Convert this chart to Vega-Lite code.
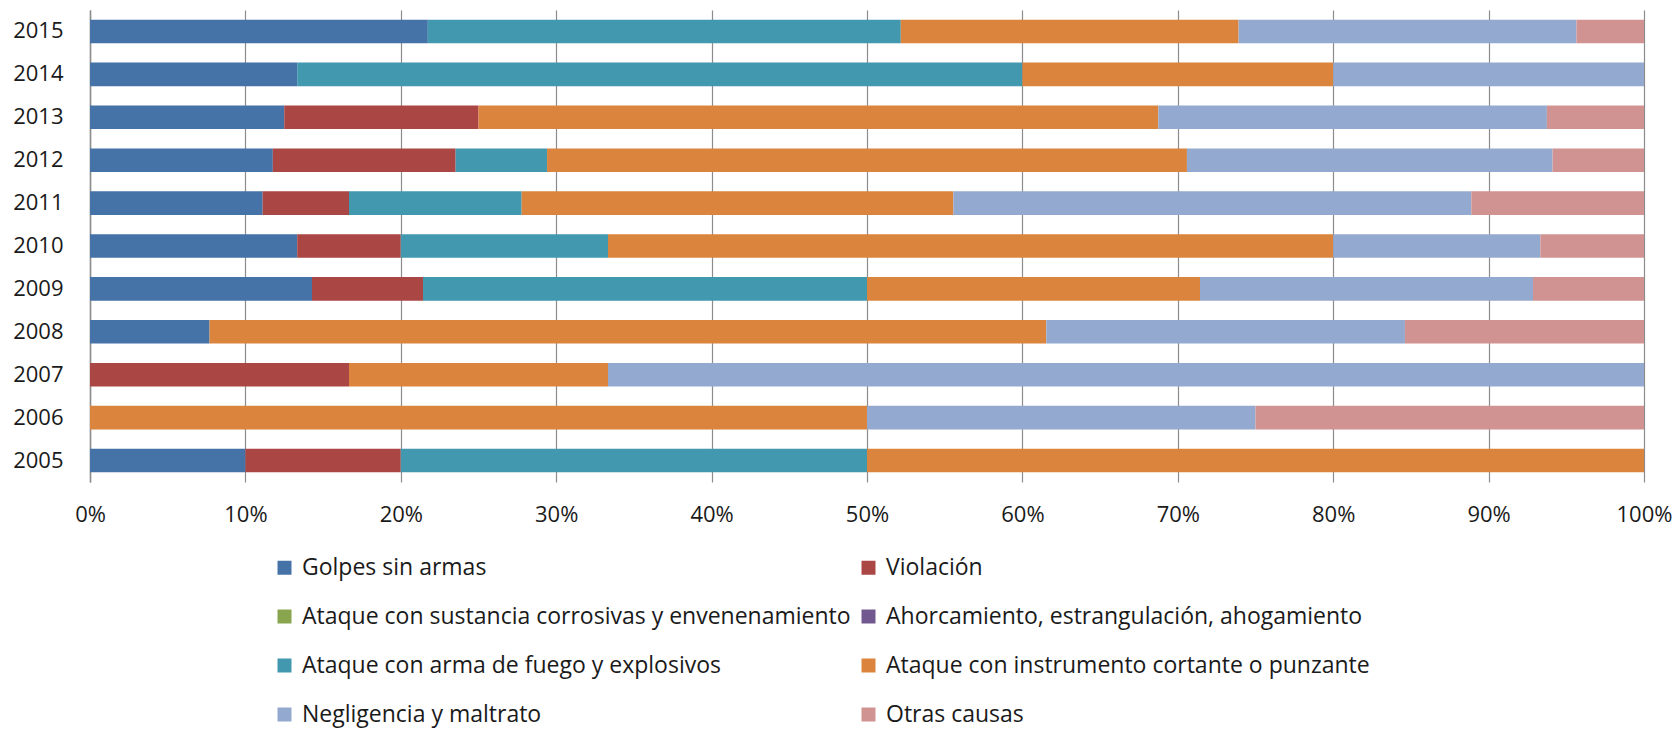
{
  "$schema": "https://vega.github.io/schema/vega-lite/v6.json",
  "width": 1554,
  "height": 472,
  "autosize": {"type": "none"},
  "padding": {"left": 90, "top": 10, "right": 33, "bottom": 247},
  "background": "white",
  "config": {
    "view": {"stroke": null},
    "font": "Open Sans",
    "axis": {"labelFont": "Open Sans", "labelFontSize": 22, "labelColor": "#1a1a1a"},
    "legend": {"labelFont": "Open Sans", "labelFontSize": 23, "labelColor": "#1a1a1a"}
  },
  "data": {
    "values": [
      {"year": "2015", "cause": "Golpes sin armas", "ord": 1, "n": 5},
      {"year": "2015", "cause": "Ataque con arma de fuego y explosivos", "ord": 5, "n": 7},
      {"year": "2015", "cause": "Ataque con instrumento cortante o punzante", "ord": 6, "n": 5},
      {"year": "2015", "cause": "Negligencia y maltrato", "ord": 7, "n": 5},
      {"year": "2015", "cause": "Otras causas", "ord": 8, "n": 1},
      {"year": "2014", "cause": "Golpes sin armas", "ord": 1, "n": 2},
      {"year": "2014", "cause": "Ataque con arma de fuego y explosivos", "ord": 5, "n": 7},
      {"year": "2014", "cause": "Ataque con instrumento cortante o punzante", "ord": 6, "n": 3},
      {"year": "2014", "cause": "Negligencia y maltrato", "ord": 7, "n": 3},
      {"year": "2013", "cause": "Golpes sin armas", "ord": 1, "n": 2},
      {"year": "2013", "cause": "Violación", "ord": 2, "n": 2},
      {"year": "2013", "cause": "Ataque con instrumento cortante o punzante", "ord": 6, "n": 7},
      {"year": "2013", "cause": "Negligencia y maltrato", "ord": 7, "n": 4},
      {"year": "2013", "cause": "Otras causas", "ord": 8, "n": 1},
      {"year": "2012", "cause": "Golpes sin armas", "ord": 1, "n": 2},
      {"year": "2012", "cause": "Violación", "ord": 2, "n": 2},
      {"year": "2012", "cause": "Ataque con arma de fuego y explosivos", "ord": 5, "n": 1},
      {"year": "2012", "cause": "Ataque con instrumento cortante o punzante", "ord": 6, "n": 7},
      {"year": "2012", "cause": "Negligencia y maltrato", "ord": 7, "n": 4},
      {"year": "2012", "cause": "Otras causas", "ord": 8, "n": 1},
      {"year": "2011", "cause": "Golpes sin armas", "ord": 1, "n": 2},
      {"year": "2011", "cause": "Violación", "ord": 2, "n": 1},
      {"year": "2011", "cause": "Ataque con arma de fuego y explosivos", "ord": 5, "n": 2},
      {"year": "2011", "cause": "Ataque con instrumento cortante o punzante", "ord": 6, "n": 5},
      {"year": "2011", "cause": "Negligencia y maltrato", "ord": 7, "n": 6},
      {"year": "2011", "cause": "Otras causas", "ord": 8, "n": 2},
      {"year": "2010", "cause": "Golpes sin armas", "ord": 1, "n": 2},
      {"year": "2010", "cause": "Violación", "ord": 2, "n": 1},
      {"year": "2010", "cause": "Ataque con arma de fuego y explosivos", "ord": 5, "n": 2},
      {"year": "2010", "cause": "Ataque con instrumento cortante o punzante", "ord": 6, "n": 7},
      {"year": "2010", "cause": "Negligencia y maltrato", "ord": 7, "n": 2},
      {"year": "2010", "cause": "Otras causas", "ord": 8, "n": 1},
      {"year": "2009", "cause": "Golpes sin armas", "ord": 1, "n": 2},
      {"year": "2009", "cause": "Violación", "ord": 2, "n": 1},
      {"year": "2009", "cause": "Ataque con arma de fuego y explosivos", "ord": 5, "n": 4},
      {"year": "2009", "cause": "Ataque con instrumento cortante o punzante", "ord": 6, "n": 3},
      {"year": "2009", "cause": "Negligencia y maltrato", "ord": 7, "n": 3},
      {"year": "2009", "cause": "Otras causas", "ord": 8, "n": 1},
      {"year": "2008", "cause": "Golpes sin armas", "ord": 1, "n": 1},
      {"year": "2008", "cause": "Ataque con instrumento cortante o punzante", "ord": 6, "n": 7},
      {"year": "2008", "cause": "Negligencia y maltrato", "ord": 7, "n": 3},
      {"year": "2008", "cause": "Otras causas", "ord": 8, "n": 2},
      {"year": "2007", "cause": "Violación", "ord": 2, "n": 1},
      {"year": "2007", "cause": "Ataque con instrumento cortante o punzante", "ord": 6, "n": 1},
      {"year": "2007", "cause": "Negligencia y maltrato", "ord": 7, "n": 4},
      {"year": "2006", "cause": "Ataque con instrumento cortante o punzante", "ord": 6, "n": 2},
      {"year": "2006", "cause": "Negligencia y maltrato", "ord": 7, "n": 1},
      {"year": "2006", "cause": "Otras causas", "ord": 8, "n": 1},
      {"year": "2005", "cause": "Golpes sin armas", "ord": 1, "n": 1},
      {"year": "2005", "cause": "Violación", "ord": 2, "n": 1},
      {"year": "2005", "cause": "Ataque con arma de fuego y explosivos", "ord": 5, "n": 3},
      {"year": "2005", "cause": "Ataque con instrumento cortante o punzante", "ord": 6, "n": 5}
    ]
  },
  "mark": {"type": "bar"},
  "encoding": {
    "y": {
      "field": "year", "type": "nominal",
      "sort": ["2015", "2014", "2013", "2012", "2011", "2010", "2009", "2008", "2007", "2006", "2005"],
      "scale": {"paddingInner": 0.45, "paddingOuter": 0.225},
      "axis": {
        "title": null, "ticks": false, "labelPadding": 27, "domain": true,
        "domainColor": "#8c8c8c", "domainWidth": 1.5, "grid": false
      }
    },
    "x": {
      "field": "n", "type": "quantitative", "stack": "normalize",
      "scale": {"domain": [0, 1], "nice": false},
      "axis": {
        "title": null, "format": ".0%", "values": [0, 0.1, 0.2, 0.3, 0.4, 0.5, 0.6, 0.7, 0.8, 0.9, 1],
        "domain": false, "ticks": false, "grid": true, "gridColor": "#8c8c8c", "gridWidth": 1.2,
        "labelPadding": 22, "labelFlush": false
      }
    },
    "order": {"field": "ord", "type": "quantitative"},
    "color": {
      "field": "cause", "type": "nominal",
      "scale": {
        "domain": ["Golpes sin armas", "Violación", "Ataque con sustancia corrosivas y envenenamiento", "Ahorcamiento, estrangulación, ahogamiento", "Ataque con arma de fuego y explosivos", "Ataque con instrumento cortante o punzante", "Negligencia y maltrato", "Otras causas"],
        "range": ["#4572A7", "#AA4643", "#89A54E", "#71588F", "#4198AF", "#DB843D", "#93A9CF", "#D19392"]
      },
      "legend": {
        "title": null, "orient": "none", "legendX": 183, "legendY": 546,
        "columns": 2, "direction": "horizontal", "symbolType": "square", "symbolSize": 196,
        "symbolStrokeWidth": 0, "labelOffset": 6, "rowPadding": 25, "columnPadding": 6,
        "padding": 0, "labelLimit": 800
      }
    }
  }
}
